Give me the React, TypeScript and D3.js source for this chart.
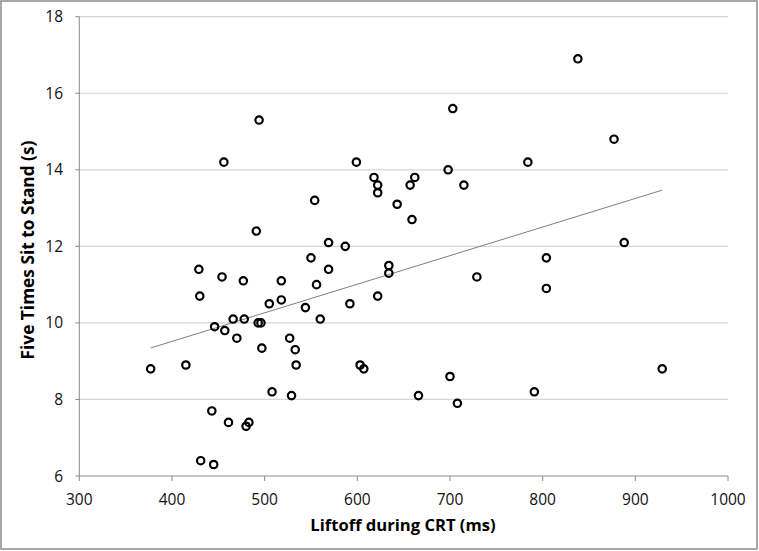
import React from "react";
import * as d3 from "d3";

const liftoffMs = [
  838, 703, 494, 456, 599, 784, 877, 698, 618, 622, 622, 657, 662, 715, 554, 643,
  659, 491, 569, 587, 888, 550, 804, 429, 569, 634, 634, 454, 477, 518, 729, 556,
  804, 430, 622, 505, 518, 544, 592, 466, 478, 560, 493, 496, 446, 457, 470, 527,
  497, 533, 377, 415, 534, 603, 607, 929, 700, 508, 529, 666, 708, 791, 443, 461,
  483, 480, 431, 445,
];
const sitToStandS = [
  16.9, 15.6, 15.3, 14.2, 14.2, 14.2, 14.8, 14.0, 13.8, 13.6, 13.4, 13.6, 13.8, 13.6, 13.2, 13.1,
  12.7, 12.4, 12.1, 12.0, 12.1, 11.7, 11.7, 11.4, 11.4, 11.5, 11.3, 11.2, 11.1, 11.1, 11.2, 11.0,
  10.9, 10.7, 10.7, 10.5, 10.6, 10.4, 10.5, 10.1, 10.1, 10.1, 10.0, 10.0, 9.9, 9.8, 9.6, 9.6,
  9.34, 9.3, 8.8, 8.9, 8.9, 8.9, 8.8, 8.8, 8.6, 8.2, 8.1, 8.1, 7.9, 8.2, 7.7, 7.4,
  7.4, 7.3, 6.4, 6.3,
];
const xTicks = [300, 400, 500, 600, 700, 800, 900, 1000];
const yTicks = [6, 8, 10, 12, 14, 16, 18];
const xTitle = "Liftoff during CRT (ms)";
const yTitle = "Five Times Sit to Stand (s)";

const W = 759;
const H = 551;
const L = 79.3, R = 728, T = 16.7, B = 476;

export default function App() {
  const x = d3.scaleLinear().domain([300, 1000]).range([L, R]);
  const y = d3.scaleLinear().domain([6, 18]).range([B, T]);
  const pts = liftoffMs.map((v, i) => [v, sitToStandS[i]] as [number, number]);
  const mx = d3.mean(liftoffMs)!;
  const my = d3.mean(sitToStandS)!;
  let sxy = 0, sxx = 0;
  pts.forEach(([a, b]) => { sxy += (a - mx) * (b - my); sxx += (a - mx) * (a - mx); });
  const slope = sxy / sxx;
  const icpt = my - slope * mx;
  const [x0, x1] = d3.extent(liftoffMs) as [number, number];
  const line = d3.line<[number, number]>().x(d => x(d[0])).y(d => y(d[1]));
  const font = "'Open Sans', sans-serif";
  return (
    <svg width={W} height={H} style={{ position: "absolute", left: 0, top: 0, background: "#fff" }}>
      <rect x={1} y={1} width={W - 3} height={H - 3} fill="#fff" stroke="#8c8c8c" strokeWidth={1.5} />
      {yTicks.map(t => (
        <g key={"y" + t}>
          {t !== 6 && <line x1={L} x2={R} y1={y(t)} y2={y(t)} stroke="#d6d6d6" strokeWidth={1.2} />}
          <line x1={L - 4} x2={L} y1={y(t)} y2={y(t)} stroke="#8a8a8a" />
          <text x={63} y={y(t) + 5.5} textAnchor="end" fontFamily={font} fontSize={15.5} fill="#111">{t}</text>
        </g>
      ))}
      <line x1={L} x2={L} y1={T} y2={B} stroke="#8a8a8a" />
      <line x1={L} x2={R} y1={B} y2={B} stroke="#8a8a8a" />
      {xTicks.map(t => (
        <g key={"x" + t}>
          <line x1={x(t)} x2={x(t)} y1={B} y2={B + 5} stroke="#8a8a8a" />
          <text x={x(t)} y={505} textAnchor="middle" fontFamily={font} fontSize={15.5} fill="#111">{t}</text>
        </g>
      ))}
      <path d={line([[x0, icpt + slope * x0], [x1, icpt + slope * x1]]) || ""} stroke="#7f7f7f" strokeWidth={1} fill="none" />
      {pts.map((p, i) => (
        <circle key={i} cx={x(p[0])} cy={y(p[1])} r={3.7} fill="none" stroke="#000" strokeWidth={2.2} />
      ))}
      <text x={403} y={531} textAnchor="middle" fontFamily={font} fontWeight="bold" fontSize={16.6} fill="#000">{xTitle}</text>
      <text transform={`translate(34,250) rotate(-90)`} textAnchor="middle" fontFamily={font} fontWeight="bold" fontSize={17.3} fill="#000">{yTitle}</text>
    </svg>
  );
}
